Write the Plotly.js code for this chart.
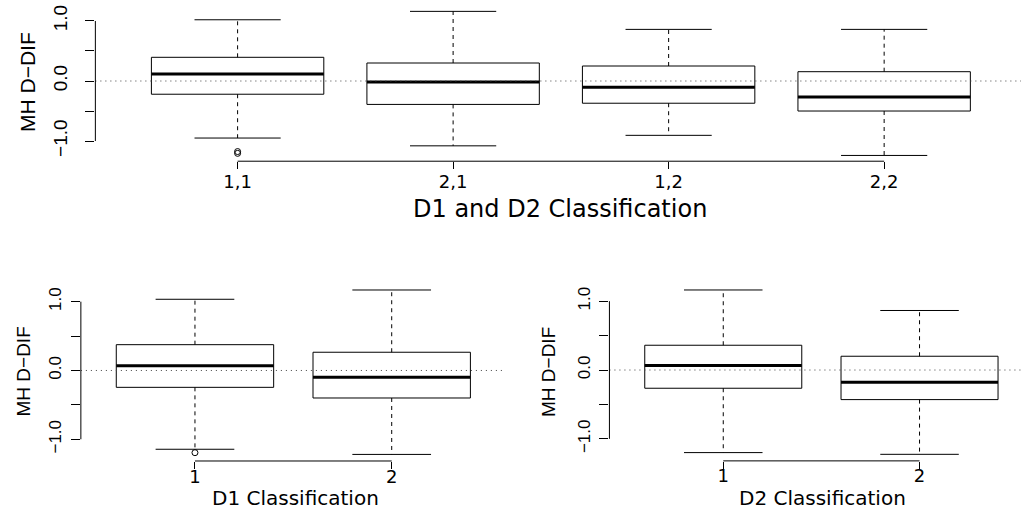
<!DOCTYPE html>
<html>
<head>
<meta charset="utf-8">
<script src="https://cdn.plot.ly/plotly-3.0.1.min.js"></script>
<style>html,body{margin:0;padding:0;background:#fff;}#plot{width:1021px;height:510px;}</style>
</head>
<body>
<div id="plot"></div>
<script>
// ---- Data ----
// Top panel: D1 and D2 classification
const topCats  = ['1,1', '2,1', '1,2', '2,2'];
const topUpper = [1.02, 1.16, 0.86, 0.86];
const topQ3    = [0.395, 0.30, 0.25, 0.155];
const topMed   = [0.117, -0.017, -0.105, -0.267];
const topQ1    = [-0.22, -0.39, -0.37, -0.50];
const topLower = [-0.95, -1.08, -0.905, -1.24];
const topOutCats = ['1,1', '1,1'];
const topOutVals = [-1.175, -1.205];

// Bottom-left: D1 classification
const d1Cats  = ['1', '2'];
const d1Upper = [1.035, 1.17];
const d1Q3    = [0.375, 0.265];
const d1Med   = [0.07, -0.10];
const d1Q1    = [-0.245, -0.40];
const d1Lower = [-1.145, -1.22];
const d1OutCats = ['1'];
const d1OutVals = [-1.195];

// Bottom-right: D2 classification
const d2Cats  = ['1', '2'];
const d2Upper = [1.163, 0.865];
const d2Q3    = [0.36, 0.20];
const d2Med   = [0.065, -0.178];
const d2Q1    = [-0.265, -0.43];
const d2Lower = [-1.20, -1.225];
const d2OutCats = [];
const d2OutVals = [];

const yTickVals = [-1, -0.5, 0, 0.5, 1];
const yTickText = ['\u22121.0', '', '0.0', '', '1.0'];

// ---- Styles ----
const BW = 0.4;   // half box width
const CW = 0.2;   // half staple width
const HFONT = 'DejaVu Sans, Liberation Sans, Arial, sans-serif';
const VFONT = 'Liberation Sans, Arial, sans-serif';

function panelTraces(cats, lower, q1, med, q3, upper, outCats, outVals, xa, ya) {
  const bx = [], by = [], mx = [], my = [], wx = [], wy = [], cx = [], cy = [];
  cats.forEach((c, i) => {
    const p = i + 1;
    bx.push(p - BW, p + BW, p + BW, p - BW, p - BW, null);
    by.push(q1[i], q1[i], q3[i], q3[i], q1[i], null);
    mx.push(p - BW, p + BW, null);
    my.push(med[i], med[i], null);
    wx.push(p, p, null, p, p, null);
    wy.push(q3[i], upper[i], null, q1[i], lower[i], null);
    cx.push(p - CW, p + CW, null, p - CW, p + CW, null);
    cy.push(upper[i], upper[i], null, lower[i], lower[i], null);
  });
  const base = {type: 'scatter', mode: 'lines', xaxis: xa, yaxis: ya, hoverinfo: 'skip', showlegend: false};
  const tr = [
    Object.assign({}, base, {x: wx, y: wy, line: {color: '#000', width: 1, dash: '4px,4px'}}),
    Object.assign({}, base, {x: cx, y: cy, line: {color: '#000', width: 1}}),
    Object.assign({}, base, {x: bx, y: by, line: {color: '#000', width: 1}}),
    Object.assign({}, base, {x: mx, y: my, line: {color: '#000', width: 3}})
  ];
  if (outVals.length) {
    tr.push({type: 'scatter', mode: 'markers', xaxis: xa, yaxis: ya, showlegend: false, hoverinfo: 'skip',
      x: outCats.map(c => cats.indexOf(c) + 1), y: outVals,
      marker: {symbol: 'circle-open', size: 6, color: '#000', line: {width: 1, color: '#000'}}});
  }
  return tr;
}

const data = [].concat(
  panelTraces(topCats, topLower, topQ1, topMed, topQ3, topUpper, topOutCats, topOutVals, 'x', 'y'),
  panelTraces(d1Cats, d1Lower, d1Q1, d1Med, d1Q3, d1Upper, d1OutCats, d1OutVals, 'x2', 'y2'),
  panelTraces(d2Cats, d2Lower, d2Q1, d2Med, d2Q3, d2Upper, d2OutCats, d2OutVals, 'x3', 'y3')
);

function xAxis(domain, range, cats, anchor, fsize, standoff) {
  return {domain: domain, range: range, anchor: anchor,
    tickmode: 'array', tickvals: cats.map((c, i) => i + 1), ticktext: cats,
    ticks: 'outside', ticklen: 7, tickwidth: 1, tickcolor: '#000',
    showline: false, showgrid: false, zeroline: false, fixedrange: true,
    tickfont: {family: HFONT, size: fsize, color: '#000'}, ticklabelstandoff: standoff};
}
function yAxis(domain, range, anchor, fsize, standoff) {
  return {domain: domain, range: range, anchor: anchor,
    tickmode: 'array', tickvals: yTickVals, ticktext: yTickText, tickangle: -90,
    ticks: 'outside', ticklen: 9, tickwidth: 1, tickcolor: '#000',
    showline: false, showgrid: false, zeroline: false, fixedrange: true,
    tickfont: {family: VFONT, size: fsize, color: '#000'}, ticklabelstandoff: standoff};
}

function panelShapes(xa, ya, ncat) {
  return [
    {type: 'line', xref: xa + ' domain', yref: ya, x0: 0, x1: 1, y0: 0, y1: 0,
     line: {color: '#444', width: 1, dash: '1px,4px'}},
    {type: 'line', xref: xa + ' domain', yref: ya, x0: 0, x1: 0, y0: yTickVals[0], y1: yTickVals[yTickVals.length - 1],
     line: {color: '#000', width: 1}},
    {type: 'line', xref: xa, yref: ya + ' domain', x0: 1, x1: ncat, y0: 0, y1: 0,
     line: {color: '#000', width: 1}}
  ];
}

const W = 1021, H = 510;
function ann(text, px, py, size, family, angle) {
  return {text: text, xref: 'paper', yref: 'paper', x: px / W, y: 1 - py / H,
    xanchor: 'center', yanchor: 'middle', showarrow: false, textangle: angle || 0, borderpad: 0,
    font: {family: family, size: size, color: '#000'}};
}

const layout = {
  width: W, height: H,
  margin: {l: 0, r: 0, t: 0, b: 0},
  paper_bgcolor: '#fff', plot_bgcolor: 'rgba(0,0,0,0)',
  showlegend: false,
  xaxis:  xAxis([0.0934, 1], [0.34, 4.635], topCats, 'y', 18, -3),
  yaxis:  yAxis([0.6839, 0.989], [-1.336, 1.256], 'x', 19, 11),
  xaxis2: xAxis([0.0792, 0.4954], [0.42, 2.58], d1Cats, 'y2', 18, -8),
  yaxis2: yAxis([0.0961, 0.4443], [-1.3156, 1.2656], 'x2', 17, 3),
  xaxis3: xAxis([0.5969, 1], [0.42, 2.517], d2Cats, 'y3', 18, -8),
  yaxis3: yAxis([0.0963, 0.4443], [-1.3205, 1.2585], 'x3', 17, 3),
  shapes: [].concat(
    panelShapes('x', 'y', topCats.length),
    panelShapes('x2', 'y2', d1Cats.length),
    panelShapes('x3', 'y3', d2Cats.length)
  ),
  annotations: [
    ann('D1 and D2 Classification', 560, 209, 24, HFONT, 0),
    ann('MH D\u2212DIF', 28, 82, 21, VFONT, -90),
    ann('D1 Classification', 295, 498, 20, HFONT, 0),
    ann('MH D\u2212DIF', 22.5, 372, 19, VFONT, -90),
    ann('D2 Classification', 822, 498, 20, HFONT, 0),
    ann('MH D\u2212DIF', 548, 372, 19, VFONT, -90)
  ]
};

Plotly.newPlot('plot', data, layout, {displayModeBar: false, staticPlot: true});
</script>
</body>
</html>
